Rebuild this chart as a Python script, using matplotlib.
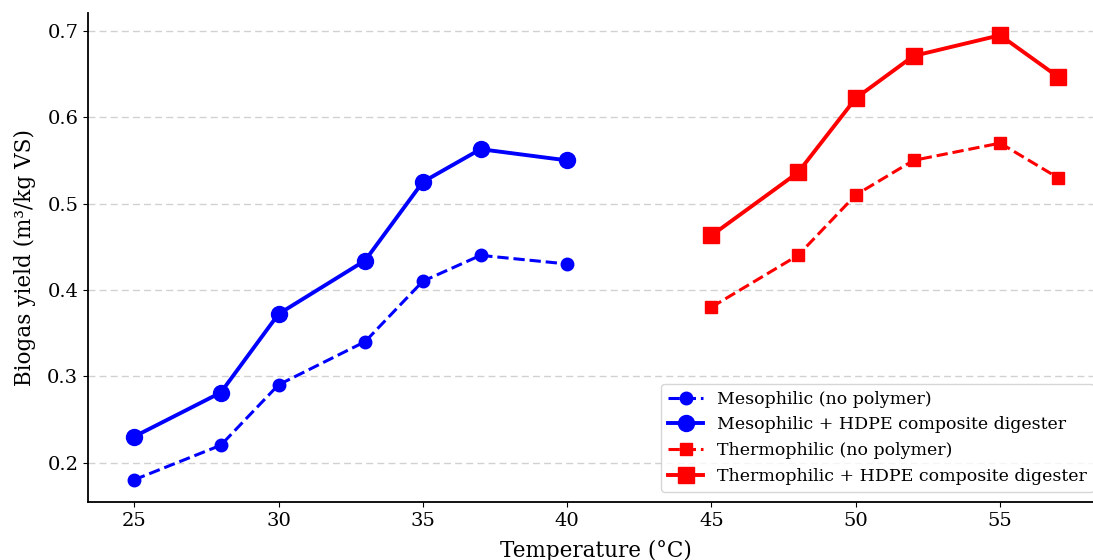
import matplotlib
matplotlib.use("Agg")
import matplotlib.pyplot as plt

plt.rcParams["font.family"] = "DejaVu Serif"

meso_temp = [25, 28, 30, 33, 35, 37, 40]
meso_plain = [0.18, 0.22, 0.29, 0.34, 0.41, 0.44, 0.43]
meso_hdpe = [0.23, 0.281, 0.372, 0.434, 0.525, 0.563, 0.55]

thermo_temp = [45, 48, 50, 52, 55, 57]
thermo_plain = [0.38, 0.44, 0.51, 0.55, 0.57, 0.53]
thermo_hdpe = [0.463, 0.536, 0.622, 0.671, 0.695, 0.647]

fig = plt.figure(figsize=(10.93, 5.6), dpi=100)
ax = fig.add_axes([88 / 1093, 58 / 560, 1016 / 1093, 489 / 560])

ax.plot(meso_temp, meso_plain, color="blue", ls="--", lw=2.2, marker="o", ms=9,
        label="Mesophilic (no polymer)")
ax.plot(meso_temp, meso_hdpe, color="blue", ls="-", lw=2.8, marker="o", ms=11.5,
        label="Mesophilic + HDPE composite digester")
ax.plot(thermo_temp, thermo_plain, color="red", ls="--", lw=2.2, marker="s", ms=9,
        label="Thermophilic (no polymer)")
ax.plot(thermo_temp, thermo_hdpe, color="red", ls="-", lw=2.8, marker="s", ms=11.5,
        label="Thermophilic + HDPE composite digester")

ax.set_xticks([25, 30, 35, 40, 45, 50, 55])
ax.set_yticks([0.2, 0.3, 0.4, 0.5, 0.6, 0.7])
ax.tick_params(labelsize=14)
ax.set_xlabel("Temperature (°C)", fontsize=15.5, labelpad=7)
ax.set_ylabel("Biogas yield (m³/kg VS)", fontsize=15.5, labelpad=8)
ax.grid(axis="y", ls=(0, (5, 3)), color="#cccccc", lw=1.0, alpha=0.9)
ax.spines["top"].set_visible(False)
ax.spines["right"].set_visible(False)
ax.spines["left"].set_linewidth(1.3)
ax.spines["bottom"].set_linewidth(1.3)
ax.legend(loc="lower right", fontsize=12.5, borderaxespad=0.6)

fig.savefig("out.png", dpi=100)
